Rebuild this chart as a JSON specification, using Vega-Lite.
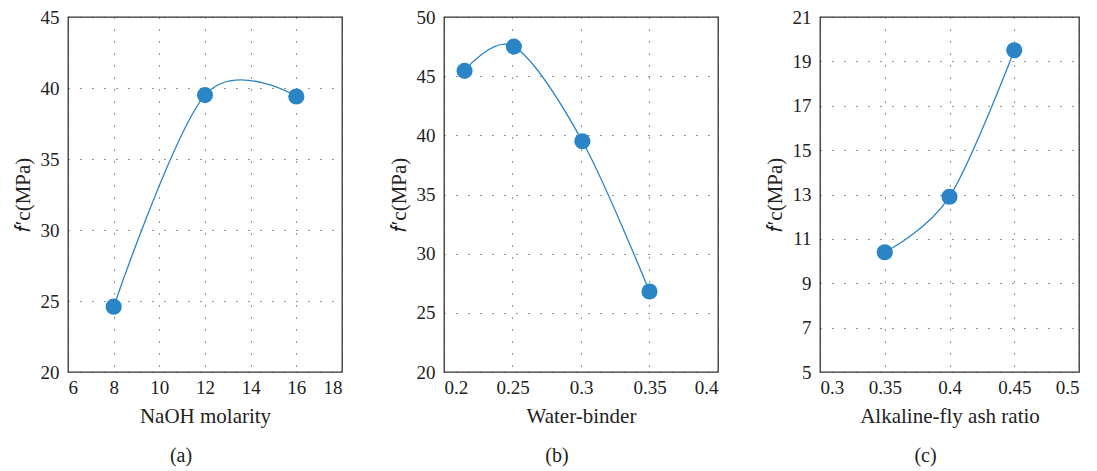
{
  "$schema": "https://vega.github.io/schema/vega-lite/v6.json",
  "autosize": {"type": "pad"},
  "padding": {"left": 11, "top": 7, "right": 0, "bottom": 0},
  "background": "white",
  "bounds": "flush",
  "spacing": 102,
  "config": {
    "font": "Liberation Serif",
    "view": {"stroke": "#333333", "strokeWidth": 1.3},
    "axis": {
      "labelFont": "Liberation Serif",
      "titleFont": "Liberation Serif",
      "labelFontSize": 19,
      "titleFontSize": 21,
      "labelColor": "#222222",
      "titleColor": "#222222",
      "titleFontWeight": "normal",
      "domain": false,
      "ticks": false,
      "grid": true,
      "gridColor": "#333333",
      "gridWidth": 1,
      "gridDash": [1, 11]
    },
    "axisX": {"titlePadding": 8, "labelPadding": 6},
    "axisY": {"titlePadding": 7, "labelPadding": 9},
    "title": {"font": "Liberation Serif", "fontSize": 20, "fontWeight": "normal", "color": "#222222"}
  },
  "datasets": {
    "a": [{"x": 8, "y": 24.6}, {"x": 12, "y": 39.5}, {"x": 16, "y": 39.4}],
    "b": [{"x": 0.215, "y": 45.45}, {"x": 0.251, "y": 47.5}, {"x": 0.301, "y": 39.5}, {"x": 0.35, "y": 26.8}],
    "c": [{"x": 0.35, "y": 10.4}, {"x": 0.4, "y": 12.9}, {"x": 0.45, "y": 19.5}]
  },
  "hconcat": [
    {
      "width": 274,
      "height": 355,
      "data": {"name": "a"},
      "title": {"text": "(a)", "orient": "bottom", "offset": 20, "dx": -24, "frame": "group"},
      "encoding": {
        "x": {"field": "x", "type": "quantitative", "scale": {"domain": [6, 18], "nice": false}, "axis": {"title": "NaOH molarity", "values": [6, 8, 10, 12, 14, 16, 18], "format": "~g"}},
        "y": {"field": "y", "type": "quantitative", "scale": {"domain": [20, 45], "nice": false, "zero": false}, "axis": {"title": "𝑓′c(MPa)", "values": [20, 25, 30, 35, 40, 45], "format": "~g"}}
      },
      "layer": [
        {"mark": {"type": "line", "interpolate": "cardinal", "color": "#2b84c6", "strokeWidth": 1.3}},
        {"mark": {"type": "circle", "size": 260, "color": "#2b84c6", "opacity": 1}}
      ]
    },
    {
      "width": 274,
      "height": 355,
      "data": {"name": "b"},
      "title": {"text": "(b)", "orient": "bottom", "offset": 20, "dx": -24, "frame": "group"},
      "encoding": {
        "x": {"field": "x", "type": "quantitative", "scale": {"domain": [0.2, 0.4], "nice": false, "zero": false}, "axis": {"title": "Water-binder", "values": [0.2, 0.25, 0.3, 0.35, 0.4], "format": "~g"}},
        "y": {"field": "y", "type": "quantitative", "scale": {"domain": [20, 50], "nice": false, "zero": false}, "axis": {"title": "𝑓′c(MPa)", "values": [20, 25, 30, 35, 40, 45, 50], "format": "~g"}}
      },
      "layer": [
        {"mark": {"type": "line", "interpolate": "cardinal", "color": "#2b84c6", "strokeWidth": 1.3}},
        {"mark": {"type": "circle", "size": 260, "color": "#2b84c6", "opacity": 1}}
      ]
    },
    {
      "width": 259,
      "height": 355,
      "data": {"name": "c"},
      "title": {"text": "(c)", "orient": "bottom", "offset": 20, "dx": -24, "frame": "group"},
      "encoding": {
        "x": {"field": "x", "type": "quantitative", "scale": {"domain": [0.3, 0.5], "nice": false, "zero": false}, "axis": {"title": "Alkaline-fly ash ratio", "values": [0.3, 0.35, 0.4, 0.45, 0.5], "format": "~g"}},
        "y": {"field": "y", "type": "quantitative", "scale": {"domain": [5, 21], "nice": false, "zero": false}, "axis": {"title": "𝑓′c(MPa)", "values": [5, 7, 9, 11, 13, 15, 17, 19, 21], "format": "~g"}}
      },
      "layer": [
        {"mark": {"type": "line", "interpolate": "cardinal", "color": "#2b84c6", "strokeWidth": 1.3}},
        {"mark": {"type": "circle", "size": 260, "color": "#2b84c6", "opacity": 1}}
      ]
    }
  ]
}
